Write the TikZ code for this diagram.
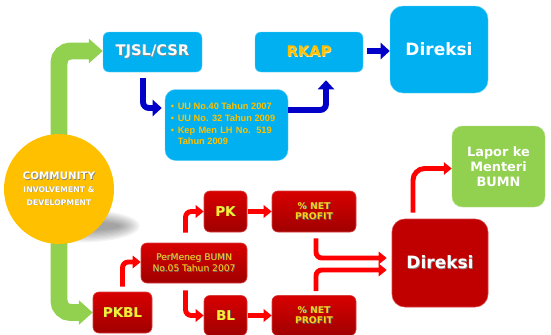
\documentclass[tikz,border=0pt]{standalone}
\usepackage{fontspec}
\setmainfont{DejaVu Sans}
\newfontfamily\arialfont{Liberation Sans}
\usetikzlibrary{arrows.meta,calc,backgrounds}

\definecolor{skyblue}{HTML}{00B0F0}
\definecolor{leafgreen}{HTML}{92D050}
\definecolor{amber}{HTML}{FFC000}
\definecolor{navyarrow}{HTML}{0000C8}
\definecolor{boxred}{HTML}{C00000}
\definecolor{redtop}{HTML}{D80000}
\definecolor{redbottom}{HTML}{A00000}
\definecolor{redrim}{HTML}{D84040}
\definecolor{lemon}{HTML}{FFEE33}
\definecolor{gold}{HTML}{FFD21A}

% text with a small drop shadow
\newcommand\shd[2][black!60]{\leavevmode\rlap{\textcolor{#1}{\kern0.6pt\raisebox{-0.6pt}{#2}}}#2}
\newcommand\fs[2]{\fontsize{#1}{#2}\selectfont}
\newlength\bw

\begin{document}
\begin{tikzpicture}[x=0.03cm,y=-0.03cm,
  boxdim/.style 2 args={minimum width=#1*0.03cm, minimum height=#2*0.03cm},
  bluebox/.style={fill=skyblue, draw=skyblue!60!white, line width=0.4pt, inner sep=0pt, rounded corners=5pt},
  redbox/.style={top color=redtop, bottom color=redbottom, draw=redrim, line width=0.5pt, inner sep=0pt, rounded corners=5pt, align=center},
  greenarrow/.style={draw=leafgreen, line width=14.5pt, rounded corners=10pt,
    -{Triangle[width=20.4pt,length=11.9pt]}},
  bluearrow/.style={draw=navyarrow, line width=5pt, rounded corners=5pt,
    -{Triangle[width=13.6pt,length=7.7pt]}},
  redarrow/.style={draw=red, line width=4.2pt, rounded corners=5pt,
    -{Triangle[width=10.5pt,length=6.8pt]}},
]
\useasboundingbox (0,0) rectangle (551,335);

% boxes of the upper branch
\node[bluebox, boxdim={99}{40}, font=\fs{12.5}{15}\bfseries, text=white] (tjsl) at (152.5,52)
  {\shd[black!45]{TJSL/CSR}};
\node[bluebox, boxdim={108}{40}, font=\fs{12.5}{15}\bfseries, text=amber] (rkap) at (309,52)
  {\shd[amber!40!white]{RKAP}};
\node[bluebox, rounded corners=11pt, boxdim={98}{87}, font=\fs{14.5}{17}\bfseries, text=white] (dirA) at (439,49.5)
  {Direksi};
\node[bluebox, rounded corners=9pt, boxdim={123}{71}, font=\arialfont\bfseries\fs{7.9}{9.9}, text=amber] (bul) at (226.5,125) {%
  \settowidth\bw{UU No.40 Tahun 2007}%
  \renewcommand\arraystretch{1}%
  \begin{tabular}{@{}l@{\hspace{3.2pt}}l@{}}
  \textbullet & UU No.40 Tahun 2007\\
  \textbullet & UU No. 32 Tahun 2009\\
  \textbullet & \makebox[\bw][s]{Kep Men LH No. 519}\\
   & Tahun 2009
  \end{tabular}\hspace*{6pt}};

% community circle
\node[circle, fill=amber, minimum size=110*0.03cm, inner sep=0pt, align=center, text=white] (comm) at (59,189) {%
  {\fs{8.8}{10}\bfseries\shd[black!50]{COMMUNITY}}\\[-1.5pt]
  {\fs{6.6}{8}\bfseries\shd[black!40]{INVOLVEMENT \&}}\\[-1pt]
  {\fs{6.6}{8}\bfseries\shd[black!40]{DEVELOPMENT}}};

% boxes of the lower branch
\node[redbox, boxdim={59}{41}, font=\fs{11.5}{14}\bfseries, text=lemon] (pkbl) at (122.5,312.5)
  {\shd{PKBL}};
\node[redbox, boxdim={106}{40}, font=\fs{7.8}{9.6}, text=gold] (perm) at (194,263)
  {\shd[black!55]{PerMeneg BUMN}\\\shd[black!55]{No.05 Tahun 2007}};
\node[redbox, boxdim={43}{41}, font=\fs{11.5}{14}\bfseries, text=lemon] (pk) at (225.5,211.5)
  {\shd{PK}};
\node[redbox, boxdim={43}{40}, font=\fs{11.5}{14}\bfseries, text=lemon] (bl) at (225.5,315.5)
  {\shd{BL}};
\node[redbox, boxdim={84}{41}, font=\fs{7.9}{9.3}\bfseries, text=gold] (net1) at (314,211.5)
  {\shd{\% NET}\\\shd{PROFIT}};
\node[redbox, boxdim={84}{40}, font=\fs{7.9}{9.3}\bfseries, text=gold] (net2) at (314,315.5)
  {\shd{\% NET}\\\shd{PROFIT}};
\node[fill=boxred, draw=redrim, line width=0.5pt, inner sep=0pt, rounded corners=11pt, boxdim={96}{88}, font=\fs{14.5}{17}\bfseries, text=white] (dirB) at (440,263)
  {\shd[black!45]{Direksi}};
\node[fill=leafgreen, draw=leafgreen!70!white, line width=0.4pt, inner sep=0pt, rounded corners=9pt, boxdim={93}{81}, align=center, font=\fs{11}{12.8}\bfseries, text=white] (lapor) at (498.5,166.5)
  {Lapor ke\\Menteri\\BUMN};

\begin{pgfonlayer}{background}
  % soft shadow under the circle
  \foreach \k in {0,...,9}{
    \fill[black, opacity=0.045] (80,226) ellipse ({60-2.2*\k} and {16.5-1.3*\k});
  }
  % green connectors leaving the circle
  \draw[greenarrow] ($(comm.north)+(0,10)$) |- ($(tjsl.west)+(0,-1)$);
  \draw[greenarrow] ($(comm.south)+(0,-10)$) |- (pkbl.west);
\end{pgfonlayer}

% blue connectors
\draw[bluearrow] ($(tjsl.south)+(-9.5,6)$) |- ($(bul.west)+(-3,-17)$);
\draw[bluearrow] ($(bul.east)+(0,-15)$) -| ($(rkap.south)+(17,8)$);
\draw[bluearrow] ($(rkap.east)+(4,-1)$) -- ($(dirA.west)+(0,1.5)$);

% red connectors
\draw[redarrow] ($(pkbl.north)+(0,-5)$) |- ($(perm.west)+(0,-1)$);
\draw[redarrow] ($(perm.north)+(-8.5,-10)$) |- (pk.west);
\draw[redarrow] ($(perm.south)+(-8.5,7)$) |- (bl.west);
\draw[redarrow] ($(pk.east)+(1,0)$) -- (net1.west);
\draw[redarrow] ($(bl.east)+(1,0)$) -- (net2.west);
\draw[redarrow] ($(net1.south)+(2,6)$) |- ($(dirB.west)+(-5,-5)$);
\draw[redarrow] ($(net2.north)+(2,-4)$) |- ($(dirB.west)+(-5,7)$);
\draw[redarrow, rounded corners=10pt] ($(dirB.north)+(-27,-6)$) |- ($(lapor.west)+(0,2)$);
\end{tikzpicture}
\end{document}
